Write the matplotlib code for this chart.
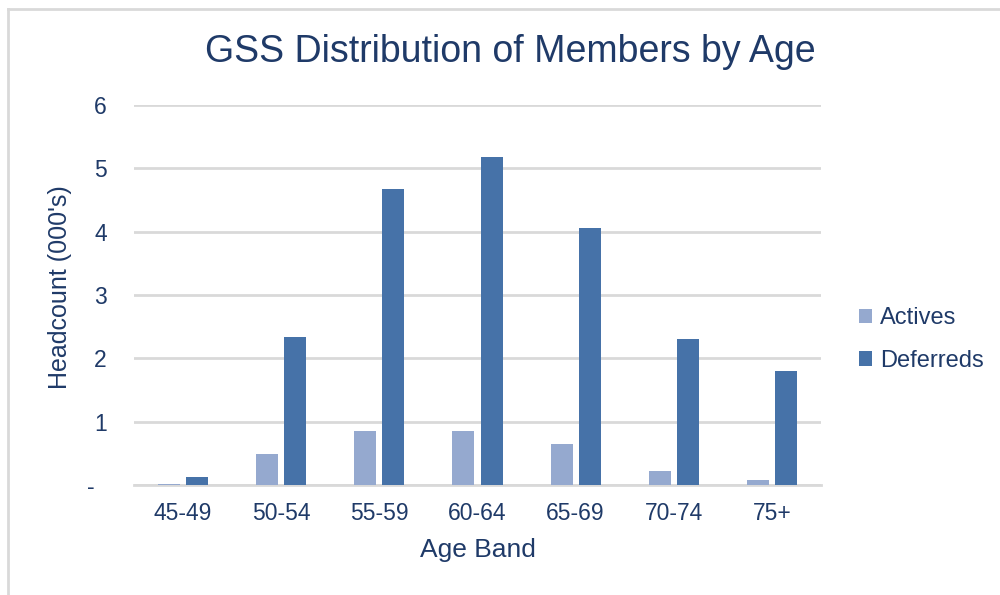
import matplotlib
matplotlib.use("Agg")
import matplotlib.pyplot as plt
import numpy as np
from matplotlib.lines import Line2D

plt.rcParams['font.family'] = ['Liberation Sans', 'DejaVu Sans']

# Headcount (000's) by age band
age_bands = ['45-49', '50-54', '55-59', '60-64', '65-69', '70-74', '75+']
actives = [0.02, 0.49, 0.86, 0.86, 0.64, 0.22, 0.08]
deferreds = [0.13, 2.34, 4.67, 5.18, 4.05, 2.30, 1.80]
y_ticks = [0, 1, 2, 3, 4, 5, 6]
y_tick_labels = ['-  ', '1', '2', '3', '4', '5', '6']

text_color = '#1F3A68'
grid_color = '#D9D9D9'
light_blue = '#95A9CF'
dark_blue = '#4672A8'

fig = plt.figure(figsize=(10, 5.95), dpi=100)
ax = fig.add_axes([0.134, 0.1849, 0.687, 0.6387])

x = np.arange(len(age_bands))
width = 0.224
offset = 0.143
ax.bar(x - offset, actives, width, color=light_blue, label='Actives', zorder=3)
ax.bar(x + offset, deferreds, width, color=dark_blue, label='Deferreds', zorder=3)

ax.set_xlim(-0.5, len(age_bands) - 0.5)
ax.set_ylim(0, 6)
ax.set_yticks(y_ticks)
ax.set_yticklabels(y_tick_labels)
ax.set_xticks(x)
ax.set_xticklabels(age_bands)

ax.yaxis.grid(True, color=grid_color, linewidth=2, zorder=0)
ax.set_axisbelow(True)
for s in ['top', 'right', 'left']:
    ax.spines[s].set_visible(False)
ax.spines['bottom'].set_color(grid_color)
ax.spines['bottom'].set_linewidth(2)
ax.spines['bottom'].set_zorder(1)

ax.tick_params(axis='both', length=0, labelsize=16.5, labelcolor=text_color)
ax.tick_params(axis='y', pad=19.5)
ax.tick_params(axis='x', pad=12)

ax.set_xlabel('Age Band', fontsize=19, color=text_color)
ax.xaxis.label.set_va('center')
ax.xaxis.set_label_coords(0.5, -0.171)
ax.set_ylabel("Headcount (000's)", fontsize=18, color=text_color)
ax.yaxis.label.set_va('center')
ax.yaxis.set_label_coords(-0.108, 0.52)

fig.text(0.51, 0.913, 'GSS Distribution of Members by Age', fontsize=27,
         color=text_color, ha='center', va='center')

ax.legend(loc='center left', bbox_to_anchor=(0.847, 0.4295),
          bbox_transform=fig.transFigure, frameon=False, fontsize=17,
          handlelength=0.55, handleheight=0.55, handletextpad=0.35,
          labelspacing=0.88, borderpad=0, labelcolor=text_color)

# light chart-area border along the top and left edges
fig.add_artist(Line2D([0.008, 0.008], [0.0, 0.985], transform=fig.transFigure,
                      color=grid_color, linewidth=2))
fig.add_artist(Line2D([0.008, 1.0], [0.985, 0.985], transform=fig.transFigure,
                      color=grid_color, linewidth=2))

fig.savefig('out.png', dpi=100, facecolor='white')
